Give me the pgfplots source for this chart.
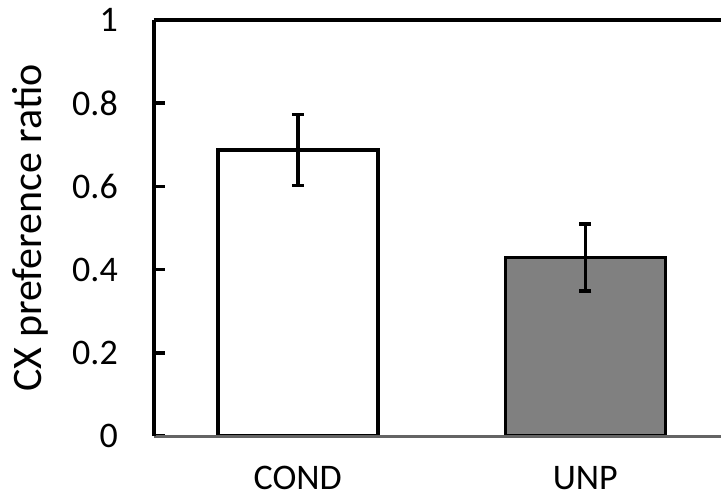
\documentclass[border=0pt]{standalone}
\usepackage{pgfplots}
\pgfplotsset{compat=1.18}
\usepackage{fontspec}
\setmainfont{Carlito}
\definecolor{bargray}{RGB}{128,128,128}
\definecolor{baseline}{RGB}{100,100,100}
\begin{document}
\begin{tikzpicture}
\begin{axis}[
  scale only axis,
  width=567bp, height=416bp,
  xmin=-0.5, xmax=1.472,
  ymin=0, ymax=1,
  axis on top,
  separate axis lines,
  axis x line*=bottom,
  axis y line*=left,
  x axis line style={draw=baseline, line width=3bp},
  y axis line style={draw=black, line width=4bp},
  xtick={0,1},
  xticklabels={COND,UNP},
  x tick style={draw=none},
  ytick={0,0.2,0.4,0.6,0.8,1},
  yticklabels={0,0.2,0.4,0.6,0.8,1},
  tick align=inside,
  y tick style={black, line width=3.5bp},
  major tick length=11bp,
  /pgf/number format/assume math mode=true,
  ticklabel style={font=\fontsize{36bp}{43bp}\selectfont},
  yticklabel style={inner sep=0pt, anchor=east, xshift=-36bp},
  xticklabel style={inner sep=0pt, anchor=north, yshift=-19bp},
  ylabel={CX preference ratio},
  ylabel style={font=\fontsize{42bp}{50bp}\selectfont, at={(axis description cs:-0.1870,0.5)}, rotate=0, anchor=south, inner sep=0pt},
  ybar, bar width=160bp,
  clip=false,
]
\addplot[bar shift=0pt, draw=black, fill=white, line width=3.5bp,
  error bars/.cd, y dir=both, y explicit,
  error bar style={line width=3.5bp, black},
  error mark options={rotate=90, mark size=6bp, line width=3.5bp, black}]
  coordinates {(0,0.6875) +- (0,0.085)};
\addplot[bar shift=0pt, draw=black, fill=bargray, line width=3.5bp,
  error bars/.cd, y dir=both, y explicit,
  error bar style={line width=3.5bp, black},
  error mark options={rotate=90, mark size=6bp, line width=3.5bp, black}]
  coordinates {(1,0.429) +- (0,0.081)};
\draw[black, line width=4bp] (rel axis cs:0,1) -- (rel axis cs:1,1);
\end{axis}
\pgfresetboundingbox
\path[use as bounding box] ([shift={(-154bp,-64bp)}]current axis.south west) rectangle ([shift={(0bp,20bp)}]current axis.north east);
\end{tikzpicture}
\end{document}
